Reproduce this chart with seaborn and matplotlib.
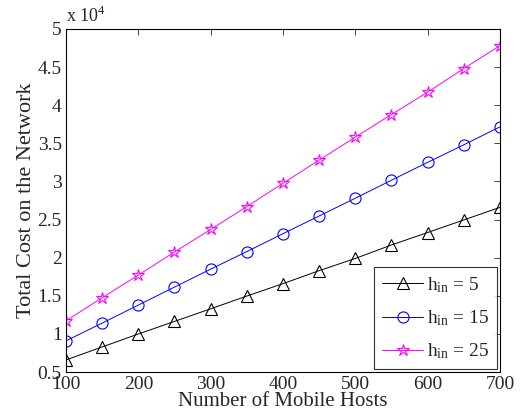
import numpy as np
import pandas as pd
import seaborn as sns
import matplotlib
matplotlib.use('Agg')
import matplotlib.pyplot as plt
from matplotlib.ticker import FuncFormatter

# 数据（从图中读取，单位：个）
hosts = [100, 150, 200, 250, 300, 350, 400, 450, 500, 550, 600, 650, 700]
cost_h5 = [6600, 8300, 10000, 11650, 13300, 14970, 16600, 18300, 19900, 21670, 23300, 24950, 26600]
cost_h15 = [9100, 11430, 13790, 16150, 18500, 20800, 23150, 25470, 27800, 30160, 32500, 34800, 37150]
cost_h25 = [11730, 14750, 17730, 20750, 23700, 26700, 29760, 32800, 35800, 38770, 41700, 44800, 47800]
series_labels = ['$\\mathregular{h_{in}}$ = 5', '$\\mathregular{h_{in}}$ = 15', '$\\mathregular{h_{in}}$ = 25']

sns.set_style('white')
plt.rcParams['font.family'] = ['Liberation Serif', 'DejaVu Serif']
plt.rcParams['mathtext.fontset'] = 'custom'
plt.rcParams['mathtext.rm'] = 'Liberation Serif'

fig = plt.figure(figsize=(5.24, 4.13), dpi=100)
ax = fig.add_axes([0.126, 0.099, 0.828, 0.831])

df = pd.DataFrame({'hosts': hosts * 3,
                   'cost': cost_h5 + cost_h15 + cost_h25,
                   'series': [series_labels[0]] * len(hosts) + [series_labels[1]] * len(hosts) + [series_labels[2]] * len(hosts)})

colors = ['black', 'blue', 'magenta']
markers = ['^', 'o', '*']
for lab, c, m in zip(series_labels, colors, markers):
    sub = df[df['series'] == lab]
    sns.lineplot(data=sub, x='hosts', y='cost', ax=ax, color=c, marker=m,
                 markersize=8 if m != '*' else 9, markerfacecolor='none', markeredgecolor=c,
                 markeredgewidth=0.8, linewidth=0.7, label=lab)

ax.set_xlim(100, 700)
ax.set_ylim(5000, 50000)
ax.set_xticks(range(100, 701, 100))
ax.set_yticks(np.arange(5000, 50001, 5000))
ax.yaxis.set_major_formatter(FuncFormatter(lambda v, p: '%g' % (v / 1e4)))
ax.tick_params(direction='in', top=True, right=True, labelsize=14, length=4, width=0.6, pad=3)
for s in ax.spines.values():
    s.set_color('black')
    s.set_linewidth(0.8)

ax.set_xlabel('Number of Mobile Hosts', fontsize=15, labelpad=-1)
ax.set_ylabel('Total Cost on the Network', fontsize=16, labelpad=1)
ax.text(0.0, 1.008, 'x 10$^{4}$', transform=ax.transAxes, fontsize=13, ha='left', va='bottom')

leg = ax.legend(loc='lower right', fontsize=14, frameon=True, fancybox=False, edgecolor='black',
                handlelength=2.1, borderaxespad=0.15, labelspacing=0.7, handletextpad=0.2,
                borderpad=0.4)
leg.get_frame().set_linewidth(0.8)

plt.savefig('out.png', dpi=100)
plt.close()
